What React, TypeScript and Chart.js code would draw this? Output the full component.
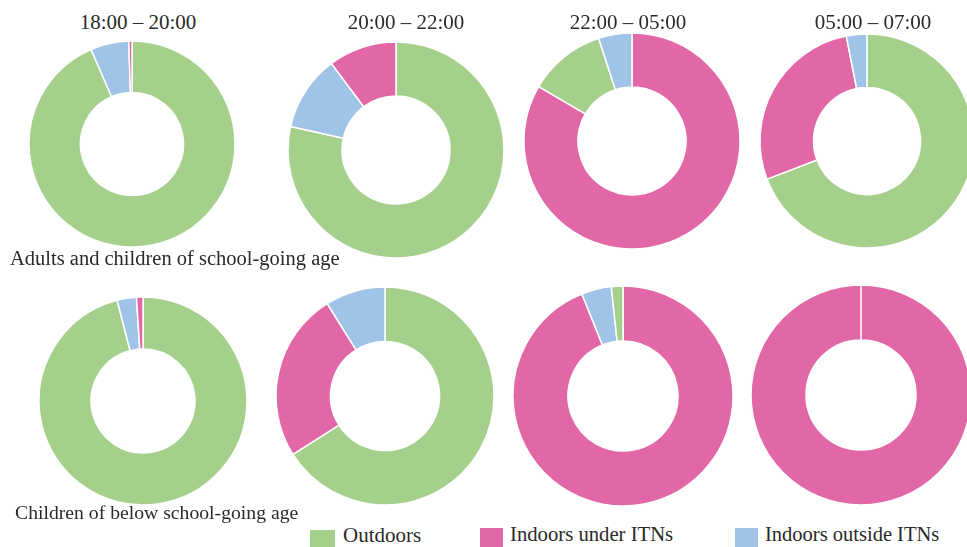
import React, { useEffect, useRef } from "react";
import { Chart, registerables } from "chart.js";

Chart.register(...registerables);

// ---- data ----
const categories = ["Outdoors", "Indoors under ITNs", "Indoors outside ITNs"];
const categoryColors = ["#a5d08b", "#e167a6", "#9fc4e7"];
const timeWindows = ["18:00 – 20:00", "20:00 – 22:00", "22:00 – 05:00", "05:00 – 07:00"];
const groups = ["Adults and children of school-going age", "Children of below school-going age"];

// percentages per time window (category order: Outdoors, Under ITNs, Outside ITNs)
const adultsOutdoors = [93.5, 78.5, 11.6, 69.2];
const adultsUnderITN = [0.5, 10.2, 83.4, 27.7];
const adultsOutsideITN = [6.0, 11.3, 5.0, 3.1];
const childrenOutdoors = [96.0, 66.0, 1.7, 0];
const childrenUnderITN = [1.0, 25.1, 93.9, 100];
const childrenOutsideITN = [3.0, 8.9, 4.4, 0];

// clockwise slice order from 12 o'clock (indices into categories)
const adultsSliceOrder = [[0, 2, 1], [0, 2, 1], [1, 0, 2], [0, 1, 2]];
const childrenSliceOrder = [[0, 2, 1], [0, 1, 2], [1, 2, 0], [1, 0, 2]];

// ---- layout ----
const row1 = [
  { cx: 131.5, cy: 144, r: 103 },
  { cx: 395.7, cy: 150, r: 108 },
  { cx: 631.7, cy: 141, r: 108 },
  { cx: 866.7, cy: 141, r: 107 },
];
const row2 = [
  { cx: 142.5, cy: 400.5, r: 104 },
  { cx: 385, cy: 396, r: 109 },
  { cx: 623.3, cy: 395.5, r: 110 },
  { cx: 861, cy: 395, r: 110 },
];
const titleCenters = [138, 406, 628, 873];
const FONT = "'Liberation Serif', 'Times New Roman', serif";
const TEXT_COLOR = "#2a2a2a";

type DonutProps = { cx: number; cy: number; r: number; values: number[]; order: number[] };

function Donut({ cx, cy, r, values, order }: DonutProps) {
  const ref = useRef<HTMLCanvasElement>(null);
  useEffect(() => {
    const labels = order.map((i) => categories[i]);
    const data = order.map((i) => values[i]);
    const colors = order.map((i) => categoryColors[i]);
    const chart = new Chart(ref.current as HTMLCanvasElement, {
      type: "doughnut",
      data: {
        labels,
        datasets: [
          {
            data,
            backgroundColor: colors,
            borderColor: "#ffffff",
            borderWidth: 1.5,
          },
        ],
      },
      options: {
        responsive: false,
        maintainAspectRatio: false,
        animation: false,
        radius: r,
        cutout: "50%",
        layout: { padding: 0 },
        events: [],
        plugins: {
          legend: { display: false },
          tooltip: { enabled: false },
          title: { display: false },
        },
      } as any,
    });
    return () => chart.destroy();
  }, []);
  const size = Math.ceil(2 * r + 8);
  return (
    <canvas
      ref={ref}
      width={size}
      height={size}
      style={{ position: "absolute", left: cx - size / 2, top: cy - size / 2, width: size, height: size }}
    />
  );
}

type TxtProps = { text: string; x: number; baseline: number; size: number; center?: boolean };

function Txt({ text, x, baseline, size, center }: TxtProps) {
  const top = baseline - 0.8375 * size;
  const style: React.CSSProperties = {
    position: "absolute",
    top,
    fontFamily: FONT,
    fontSize: size,
    lineHeight: `${size}px`,
    whiteSpace: "nowrap",
    color: TEXT_COLOR,
  };
  if (center) {
    style.left = x - 150;
    style.width = 300;
    style.textAlign = "center";
  } else {
    style.left = x;
  }
  return <div style={style}>{text}</div>;
}

function Swatch({ x, y, w, h, color }: { x: number; y: number; w: number; h: number; color: string }) {
  return <div style={{ position: "absolute", left: x, top: y, width: w, height: h, background: color }} />;
}

export default function App() {
  const adultVals = (i: number) => [adultsOutdoors[i], adultsUnderITN[i], adultsOutsideITN[i]];
  const childVals = (i: number) => [childrenOutdoors[i], childrenUnderITN[i], childrenOutsideITN[i]];
  return (
    <div
      style={{
        position: "absolute",
        left: 0,
        top: 0,
        width: 967,
        height: 547,
        overflow: "hidden",
        background: "#ffffff",
      }}
    >
      {row1.map((p, i) => (
        <Donut key={"a" + i} cx={p.cx} cy={p.cy} r={p.r} values={adultVals(i)} order={adultsSliceOrder[i]} />
      ))}
      {row2.map((p, i) => (
        <Donut key={"c" + i} cx={p.cx} cy={p.cy} r={p.r} values={childVals(i)} order={childrenSliceOrder[i]} />
      ))}
      {timeWindows.map((t, i) => (
        <Txt key={"t" + i} text={t} x={titleCenters[i]} baseline={30} size={21} center />
      ))}
      <Txt text={groups[0]} x={10} baseline={265} size={20.5} />
      <Txt text={groups[1]} x={15} baseline={519} size={19.7} />
      <Swatch x={310} y={530} w={25} h={20} color={categoryColors[0]} />
      <Txt text={categories[0]} x={343} baseline={543} size={21} />
      <Swatch x={480} y={528} w={23} h={19} color={categoryColors[1]} />
      <Txt text={categories[1]} x={510} baseline={541} size={20.7} />
      <Swatch x={735} y={528} w={23} h={19} color={categoryColors[2]} />
      <Txt text={categories[2]} x={765} baseline={541} size={20.5} />
    </div>
  );
}
